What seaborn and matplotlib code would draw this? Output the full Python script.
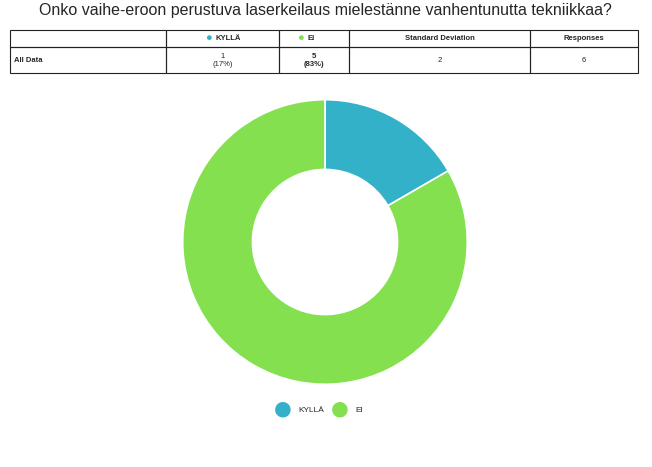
import matplotlib
matplotlib.use("Agg")
import matplotlib.pyplot as plt
import seaborn as sns
from matplotlib.patches import Rectangle

sns.set_theme(style="white")
plt.rcParams['font.family'] = ['Liberation Sans', 'DejaVu Sans']

title = "Onko vaihe-eroon perustuva laserkeilaus mielestänne vanhentunutta tekniikkaa?"
categories = ["KYLLÄ", "EI"]
counts = [1, 5]
percents = ["(17%)", "(83%)"]
std_dev = "2"
responses = "6"
colors = ["#33b1c9", "#84e04f"]

W, H = 652, 467
fig = plt.figure(figsize=(W/100, H/100), dpi=100)
fig.text(325/W, 1-10/H, title, ha="center", va="center", fontsize=11.5)

def fx(x): return x/W
def fy(y): return 1-y/H

# table
cols = [10, 166, 279, 349, 530, 638]
rows = [30, 47, 73]
for i in range(len(cols)-1):
    for j in range(len(rows)-1):
        fig.add_artist(Rectangle((fx(cols[i]), fy(rows[j+1])), fx(cols[i+1]-cols[i]),
                                 (rows[j+1]-rows[j])/H, fill=False, lw=0.8, ec="#222222",
                                 transform=fig.transFigure))
ym1 = (rows[0]+rows[1])/2
ym2 = (rows[1]+rows[2])/2
fs = 5.5
for k, (c, col) in enumerate(zip(categories, colors)):
    cx = (cols[k+1]+cols[k+2])/2
    fig.text(fx(cx-14), fy(ym1), "●", color=col, ha="center", va="center", fontsize=8)
    fig.text(fx(cx-7), fy(ym1), c, ha="left", va="center", fontsize=fs, weight="bold")
    fig.text(fx(cx), fy(ym2-4), str(counts[k]), ha="center", va="center", fontsize=fs,
             weight="bold" if k == 1 else "normal")
    fig.text(fx(cx), fy(ym2+5), percents[k], ha="center", va="center", fontsize=fs,
             weight="bold" if k == 1 else "normal")
fig.text(fx((cols[3]+cols[4])/2), fy(ym1), "Standard Deviation", ha="center", va="center", fontsize=fs, weight="bold")
fig.text(fx((cols[4]+cols[5])/2), fy(ym1), "Responses", ha="center", va="center", fontsize=fs, weight="bold")
fig.text(fx(14), fy(ym2), "All Data", ha="left", va="center", fontsize=fs, weight="bold")
fig.text(fx((cols[3]+cols[4])/2), fy(ym2), std_dev, ha="center", va="center", fontsize=fs)
fig.text(fx((cols[4]+cols[5])/2), fy(ym2), responses, ha="center", va="center", fontsize=fs)

# donut
R = 143
ax = fig.add_axes([fx(325-R), fy(242+R), 2*R/W, 2*R/H])
ax.pie(counts, colors=colors, startangle=90, counterclock=False,
       wedgeprops=dict(width=0.49, edgecolor="white", linewidth=1.2))
ax.set_xlim(-1.005, 1.005)
ax.set_ylim(-1.005, 1.005)
ax.set_aspect("equal")
ax.axis("off")

# legend
for k, (c, col) in enumerate(zip(categories, colors)):
    x0 = [283, 340][k]
    fig.text(fx(x0), fy(410), "●", color=col, ha="center", va="center", fontsize=26)
    fig.text(fx(x0+15), fy(410), c, ha="left", va="center", fontsize=6)

fig.savefig("out.png", dpi=100)
